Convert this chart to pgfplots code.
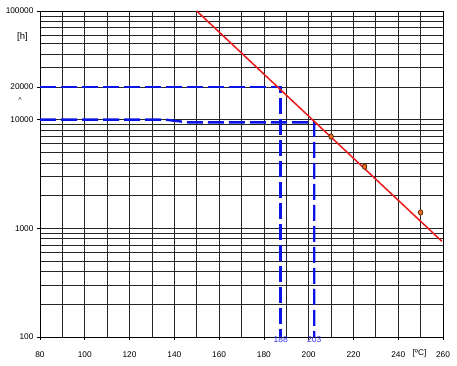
\documentclass[border=0pt]{standalone}
\usepackage{fontspec}
\setmainfont{Liberation Sans}
\usepackage{pgfplots}
\pgfplotsset{compat=1.18}
\definecolor{redline}{RGB}{235,25,25}
\definecolor{blueline}{RGB}{10,20,230}
\definecolor{bluetxt}{RGB}{50,50,240}
\definecolor{ptfill}{RGB}{230,110,30}
\definecolor{ptdraw}{RGB}{80,35,10}
\begin{document}
\begin{tikzpicture}
\useasboundingbox (-40pt,-28pt) rectangle (417pt,337pt);
\begin{axis}[
  at={(0,0)}, anchor=south west,
  scale only axis, width=403pt, height=326pt,
  ymode=log, xmin=80, xmax=260, ymin=100, ymax=100000,
  clip=false,
  xtick={80,100,120,140,160,180,200,220,240,260},
  minor xtick={90,110,130,150,170,190,210,230,250},
  ytick={100,1000,10000,20000,100000},
  yticklabels={100,1000,10000,20000,100000},
  minor ytick={200,300,400,500,600,700,800,900,2000,3000,4000,5000,6000,7000,8000,9000,30000,40000,50000,60000,70000,80000,90000},
  grid=both,
  major grid style={black!85, line width=0.75pt},
  minor grid style={black!85, line width=0.75pt},
  axis line style={black, line width=0.9pt},
  tick align=outside, tick pos=left,
  major tick length=3pt, minor tick length=0pt,
  tick style={black, line width=0.7pt},
  /pgf/number format/assume math mode=true,
  /pgf/number format/1000 sep={},
  ticklabel style={font=\fontsize{8.3}{9}\selectfont},
  xticklabel style={yshift=-8pt},
]
\addplot[blueline, line width=2.4pt, dash pattern=on 16pt off 5pt, line join=miter]
  coordinates {(80,20000) (187.5,20000) (187.5,100)};
\addplot[blueline, line width=2.4pt, dash pattern=on 16pt off 5pt, line join=miter]
  coordinates {(80,10000) (136,10000) (146,9450) (202.5,9450) (202.5,100)};
\addplot[redline, line width=1.5pt] coordinates {(150,100000) (259.5,760)};
\addplot[only marks, mark=*, mark size=2.8pt,
  mark options={fill=ptfill, draw=ptdraw, line width=0.7pt, xscale=0.8}]
  coordinates {(210,7000) (225,3700) (250,1400)};
\node[bluetxt, font=\fontsize{8.5}{9}\selectfont, yshift=-3pt] at (axis cs:187.5,100) {188};
\node[bluetxt, font=\fontsize{8.5}{9}\selectfont, yshift=-3pt] at (axis cs:202.5,100) {203};
\node[font=\fontsize{9.5}{10}\selectfont, xshift=-17.5pt] at (axis cs:80,57000) {[h]};
\node[font=\fontsize{7}{8}\selectfont, xshift=-20pt] at (axis cs:80,15000) {\textasciicircum};
\node[font=\fontsize{8.3}{9}\selectfont, yshift=-16pt] at (axis cs:249.5,100) {[ºC]};
\end{axis}
\end{tikzpicture}
\end{document}
